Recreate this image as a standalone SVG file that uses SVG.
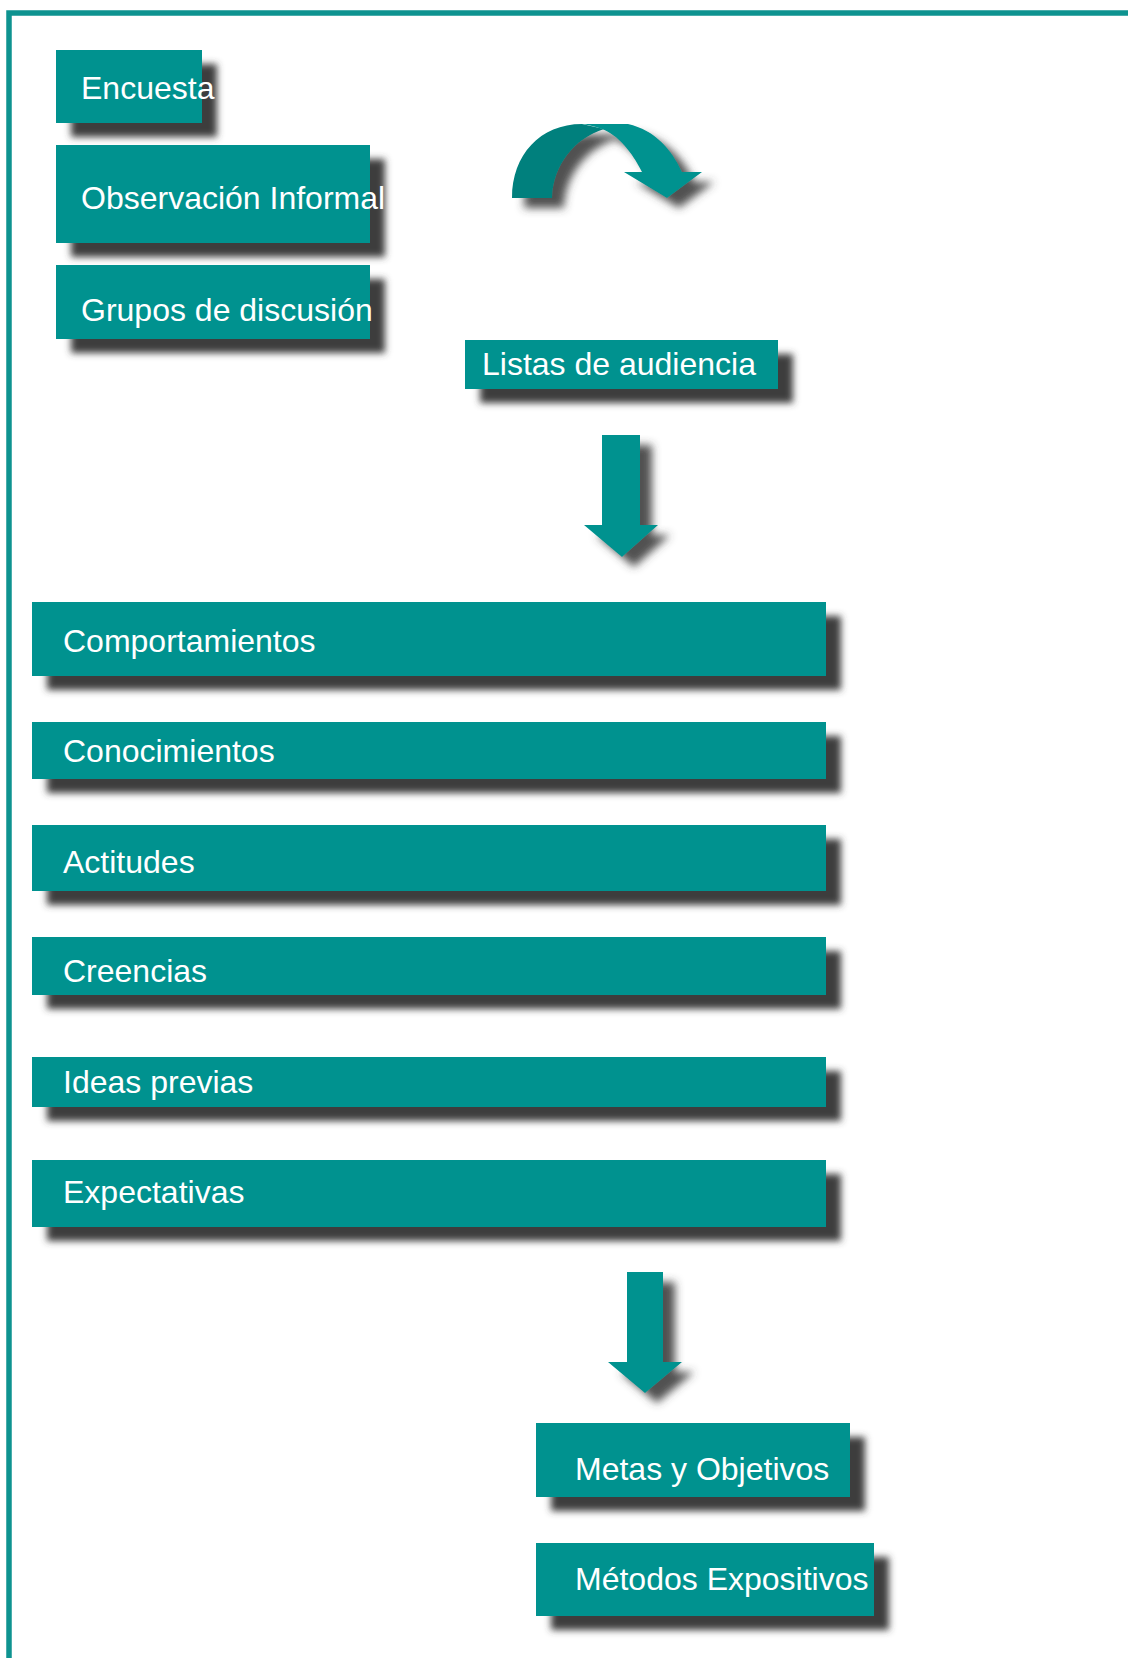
<svg xmlns="http://www.w3.org/2000/svg" width="1128" height="1658" viewBox="0 0 1128 1658">
<style>
.box{fill:#00928F;}
.t{font-family:"Liberation Sans",Arial,sans-serif;font-size:32px;fill:#ffffff;}
.frame{stroke:#0E9390;stroke-width:5.5;fill:none;}
.arr{fill:#00928F;}
</style>
<defs>
<filter id="sh" x="-10%" y="-30%" width="130%" height="180%">
<feDropShadow dx="15" dy="14" stdDeviation="3.5" flood-color="#3c3c3c" flood-opacity="1"/>
</filter>
<filter id="sha" x="-30%" y="-30%" width="170%" height="170%">
<feDropShadow dx="12" dy="10" stdDeviation="4" flood-color="#3c3c3c" flood-opacity="0.9"/>
</filter>
</defs>
<rect width="1128" height="1658" fill="#ffffff"/>
<path class="frame" d="M9,1658 L9,13 L1128,13"/>

<g id="n-encuesta"><rect class="box" x="56" y="50" width="146" height="73" filter="url(#sh)"/><text class="t" x="81" y="99">Encuesta</text></g>
<g id="n-observacion"><rect class="box" x="56" y="145" width="314" height="98" filter="url(#sh)"/><text class="t" x="81" y="209">Observación Informal</text></g>
<g id="n-grupos"><rect class="box" x="56" y="265" width="314" height="74" filter="url(#sh)"/><text class="t" x="81" y="321">Grupos de discusión</text></g>
<g id="n-listas"><rect class="box" x="465" y="340" width="313" height="49" filter="url(#sh)"/><text class="t" x="482" y="375">Listas de audiencia</text></g>

<g id="n-comportamientos"><rect class="box" x="32" y="602" width="794" height="74" filter="url(#sh)"/><text class="t" x="63" y="652">Comportamientos</text></g>
<g id="n-conocimientos"><rect class="box" x="32" y="722" width="794" height="57" filter="url(#sh)"/><text class="t" x="63" y="762">Conocimientos</text></g>
<g id="n-actitudes"><rect class="box" x="32" y="825" width="794" height="66" filter="url(#sh)"/><text class="t" x="63" y="873">Actitudes</text></g>
<g id="n-creencias"><rect class="box" x="32" y="937" width="794" height="58" filter="url(#sh)"/><text class="t" x="63" y="982">Creencias</text></g>
<g id="n-ideas"><rect class="box" x="32" y="1057" width="794" height="50" filter="url(#sh)"/><text class="t" x="63" y="1093">Ideas previas</text></g>
<g id="n-expectativas"><rect class="box" x="32" y="1160" width="794" height="67" filter="url(#sh)"/><text class="t" x="63" y="1203">Expectativas</text></g>

<g id="n-metas"><rect class="box" x="536" y="1423" width="314" height="74" filter="url(#sh)"/><text class="t" x="575" y="1480">Metas y Objetivos</text></g>
<g id="n-metodos"><rect class="box" x="536" y="1543" width="338" height="73" filter="url(#sh)"/><text class="t" x="575" y="1590">Métodos Expositivos</text></g>

<g id="connectors">
<g filter="url(#sha)">
<path fill="#00807D" d="M512,198 C512,155 540,124 582,124 L604,129 C575,138 553,165 552,198 Z"/>
<path class="arr" d="M578,124 L628,124 C655,130 672,150 682,172 L702,172 L667,198 L624,172 L642,172 C632,152 618,135 602,129 C594,126 586,124 578,124 Z"/>
</g>
<path class="arr" filter="url(#sha)" d="M602,435 L640,435 L640,525 L658,525 L622,557 L584,525 L602,525 Z"/>
<path class="arr" filter="url(#sha)" d="M627,1272 L663,1272 L663,1362 L682,1362 L645,1393 L608,1362 L627,1362 Z"/>
</g>
</svg>
